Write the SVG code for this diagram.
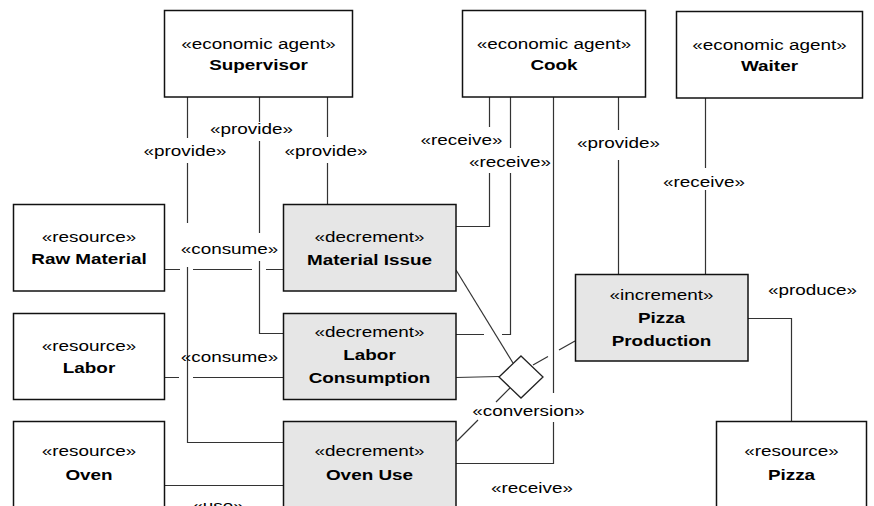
<svg xmlns="http://www.w3.org/2000/svg" width="874" height="506" viewBox="0 0 874 506">
  <style>
    .box { fill: #ffffff; stroke: #111111; stroke-width: 1.5; }
    .act { fill: #e6e6e6; }
    .t { font-family: "Liberation Sans", Arial, sans-serif; font-size: 15px; fill: #000000; text-anchor: middle; }
    .b { font-weight: bold; }
    .conn { fill: none; stroke: #333333; stroke-width: 1.2; }
    .dia { fill: #ffffff; stroke: #222222; stroke-width: 1.3; }
  </style>
  <rect width="874" height="506" fill="#ffffff"/>

  <!-- connectors, with gaps left for labels and line jumps -->
  <g id="connectors">
    <!-- Supervisor provides -->
    <path class="conn" d="M187.5 97 V138 M187.5 163 V223 M187.5 267 V442.5 H283"/>
    <path class="conn" d="M259.5 97 V122 M259.5 141 V233 M259.5 261 V333.5 H283"/>
    <path class="conn" d="M327.5 97 V137 M327.5 163 V204"/>
    <!-- resources consumed / used -->
    <path class="conn" d="M165 269.5 H180 M193 269.5 H252 M266 269.5 H283"/>
    <path class="conn" d="M165 377.5 H179 M193 377.5 H283"/>
    <path class="conn" d="M165 485.5 H283"/>
    <!-- Cook -->
    <path class="conn" d="M489.5 97 V127 M489.5 173 V226.5 H456"/>
    <path class="conn" d="M510.5 97 V148 M510.5 173 V334.5 H502 M484 334.5 H456"/>
    <path class="conn" d="M553.5 97 V393 M553.5 422 V463.5 H456"/>
    <path class="conn" d="M618.5 97 V130 M618.5 160 V274"/>
    <!-- Waiter -->
    <path class="conn" d="M705.5 98 V168 M705.5 190 V274"/>
    <!-- produce -->
    <path class="conn" d="M748 318.5 H791.5 V421"/>
    <!-- conversion links -->
    <path class="conn" d="M456 270 L513 363"/>
    <path class="conn" d="M456 377.5 L499 376.5"/>
    <path class="conn" d="M457 441 L478 420 M496 402 L510 388"/>
    <path class="conn" d="M533 365 L548 356.5 M559 350 L575 341"/>
    <polygon class="dia" points="521,356 543,377 521,398 499,377"/>

    <!-- connector labels -->
    <text class="t" transform="translate(251.5 134) scale(1.26 1)">«provide»</text>
    <text class="t" transform="translate(185 156) scale(1.26 1)">«provide»</text>
    <text class="t" transform="translate(326 156) scale(1.26 1)">«provide»</text>
    <text class="t" transform="translate(229.5 254) scale(1.26 1)">«consume»</text>
    <text class="t" transform="translate(229.5 362) scale(1.26 1)">«consume»</text>
    <text class="t" transform="translate(218 511) scale(1.26 1)">«use»</text>
    <text class="t" transform="translate(461.5 145) scale(1.26 1)">«receive»</text>
    <text class="t" transform="translate(510 167) scale(1.26 1)">«receive»</text>
    <text class="t" transform="translate(618.5 148) scale(1.26 1)">«provide»</text>
    <text class="t" transform="translate(704 187) scale(1.26 1)">«receive»</text>
    <text class="t" transform="translate(812.5 295) scale(1.26 1)">«produce»</text>
    <text class="t" transform="translate(528.5 416) scale(1.26 1)">«conversion»</text>
    <text class="t" transform="translate(532 493) scale(1.26 1)">«receive»</text>
  </g>

  <!-- economic agents -->
  <g id="supervisor">
    <rect class="box" x="164.5" y="10.5" width="188" height="86.5"/>
    <text class="t" transform="translate(258.5 0) scale(1.26 1)"><tspan x="0" y="49">«economic agent»</tspan><tspan class="b" x="0" y="70">Supervisor</tspan></text>
  </g>
  <g id="cook">
    <rect class="box" x="462.5" y="10.5" width="183" height="86.5"/>
    <text class="t" transform="translate(554 0) scale(1.26 1)"><tspan x="0" y="49">«economic agent»</tspan><tspan class="b" x="0" y="70">Cook</tspan></text>
  </g>
  <g id="waiter">
    <rect class="box" x="676.5" y="11.5" width="186" height="86.5"/>
    <text class="t" transform="translate(769.5 0) scale(1.26 1)"><tspan x="0" y="50">«economic agent»</tspan><tspan class="b" x="0" y="71">Waiter</tspan></text>
  </g>

  <!-- resources -->
  <g id="raw-material">
    <rect class="box" x="13.5" y="204.5" width="151" height="86.5"/>
    <text class="t" transform="translate(89 0) scale(1.26 1)"><tspan x="0" y="242">«resource»</tspan><tspan class="b" x="0" y="264">Raw Material</tspan></text>
  </g>
  <g id="labor">
    <rect class="box" x="13.5" y="313.5" width="151" height="86"/>
    <text class="t" transform="translate(89 0) scale(1.26 1)"><tspan x="0" y="351">«resource»</tspan><tspan class="b" x="0" y="373">Labor</tspan></text>
  </g>
  <g id="oven">
    <rect class="box" x="13.5" y="421.5" width="151" height="100"/>
    <text class="t" transform="translate(89 0) scale(1.26 1)"><tspan x="0" y="456">«resource»</tspan><tspan class="b" x="0" y="480">Oven</tspan></text>
  </g>
  <g id="pizza">
    <rect class="box" x="716.5" y="421.5" width="150" height="100"/>
    <text class="t" transform="translate(791.5 0) scale(1.26 1)"><tspan x="0" y="456">«resource»</tspan><tspan class="b" x="0" y="480">Pizza</tspan></text>
  </g>

  <!-- economic events -->
  <g id="material-issue">
    <rect class="box act" x="283.5" y="204.5" width="172.5" height="86.5"/>
    <text class="t" transform="translate(369.5 0) scale(1.26 1)"><tspan x="0" y="242">«decrement»</tspan><tspan class="b" x="0" y="265">Material Issue</tspan></text>
  </g>
  <g id="labor-consumption">
    <rect class="box act" x="283.5" y="313.5" width="172.5" height="86"/>
    <text class="t" transform="translate(369.5 0) scale(1.26 1)"><tspan x="0" y="337">«decrement»</tspan><tspan class="b" x="0" y="360">Labor</tspan><tspan class="b" x="0" y="383">Consumption</tspan></text>
  </g>
  <g id="oven-use">
    <rect class="box act" x="283.5" y="421.5" width="172.5" height="100"/>
    <text class="t" transform="translate(369.5 0) scale(1.26 1)"><tspan x="0" y="456">«decrement»</tspan><tspan class="b" x="0" y="480">Oven Use</tspan></text>
  </g>
  <g id="pizza-production">
    <rect class="box act" x="575.5" y="274.5" width="172.5" height="86.5"/>
    <text class="t" transform="translate(661.5 0) scale(1.26 1)"><tspan x="0" y="300">«increment»</tspan><tspan class="b" x="0" y="323">Pizza</tspan><tspan class="b" x="0" y="346">Production</tspan></text>
  </g>
</svg>
